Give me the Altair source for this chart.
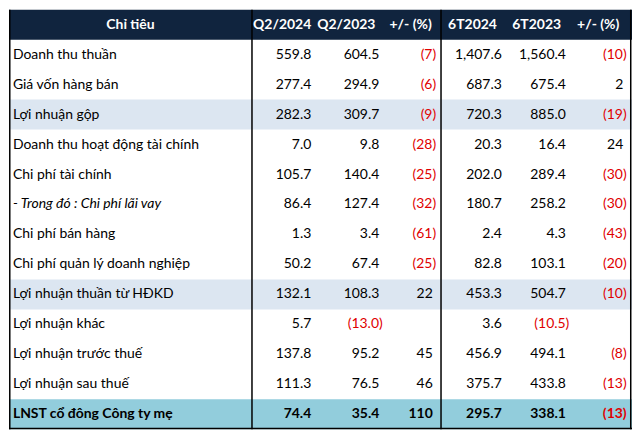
import altair as alt
import pandas as pd

# ---------------- data ----------------
headers = ["Chỉ tiêu", "Q2/2024", "Q2/2023", "+/- (%)", "6T2024", "6T2023", "+/- (%)"]
labels = ["Doanh thu thuần", "Giá vốn hàng bán", "Lợi nhuận gộp",
          "Doanh thu hoạt động tài chính", "Chi phí tài chính",
          "- Trong đó : Chi phí lãi vay", "Chi phí bán hàng",
          "Chi phí quản lý doanh nghiệp", "Lợi nhuận thuần từ HĐKD",
          "Lợi nhuận khác", "Lợi nhuận trước thuế", "Lợi nhuận sau thuế",
          "LNST cổ đông Công ty mẹ"]
q2_2024 = [559.8, 277.4, 282.3, 7.0, 105.7, 86.4, 1.3, 50.2, 132.1, 5.7, 137.8, 111.3, 74.4]
q2_2023 = [604.5, 294.9, 309.7, 9.8, 140.4, 127.4, 3.4, 67.4, 108.3, -13.0, 95.2, 76.5, 35.4]
chg_q = [-7, -6, -9, -28, -25, -32, -61, -25, 22, None, 45, 46, 110]
h1_2024 = [1407.6, 687.3, 720.3, 20.3, 202.0, 180.7, 2.4, 82.8, 453.3, 3.6, 456.9, 375.7, 295.7]
h1_2023 = [1560.4, 675.4, 885.0, 16.4, 289.4, 258.2, 4.3, 103.1, 504.7, -10.5, 494.1, 433.8, 338.1]
chg_h = [-10, 2, -19, 24, -30, -30, -43, -20, -10, None, -8, -13, -13]
highlight_rows = ["Lợi nhuận gộp", "Lợi nhuận thuần từ HĐKD"]
italic_rows = ["- Trong đó : Chi phí lãi vay"]
total_row = "LNST cổ đông Công ty mẹ"

# ---------------- layout (reference pixel units) ----------------
W_REF, H_REF = 641, 437
ROW_H = H_REF / (len(labels) + 1)
value_right = [311, 381, 436, 507, 573, 632]      # right edge of positive numbers
header_right = [311, 377, 435, 502, 568, 628]
NEG_SHIFT = 3.5
LABEL_X = 4
HEAD_CENTER = 125
V_LINES = [0.8, 250, 444.5, 639.7]
FONT = "Lato"
FS = 14

HEAD_BG = "#10243E"
HL_BG = "#DCE6F1"
TOTAL_BG = "#92CDDC"
RED = "#E00000"
INK = "#000000"


def fmt(v, dec):
    if v is None:
        return ""
    s = f"{abs(v):,.{dec}f}"
    return f"({s})" if v < 0 else s


# backgrounds
bg = [{"y0": 0, "y1": ROW_H, "x0": 0, "x1": W_REF, "fill": HEAD_BG}]
for i, lab in enumerate(labels):
    top = ROW_H * (i + 1)
    if lab in highlight_rows:
        bg.append({"y0": top, "y1": top + ROW_H, "x0": 0, "x1": W_REF, "fill": HL_BG})
    elif lab == total_row:
        bg.append({"y0": top, "y1": top + ROW_H, "x0": 0, "x1": W_REF, "fill": TOTAL_BG})
bg_df = pd.DataFrame(bg)

# lines
lines = [{"x0": x, "x1": x, "y0": 0, "y1": H_REF} for x in V_LINES]
lines.append({"x0": 0, "x1": W_REF, "y0": H_REF - 0.8, "y1": H_REF - 0.8})
lines_df = pd.DataFrame(lines)

# header texts
head_df = pd.DataFrame({"t": headers[1:], "x": header_right, "y": [ROW_H / 2] * 6})
head_c_df = pd.DataFrame({"t": [headers[0]], "x": [HEAD_CENTER], "y": [ROW_H / 2]})

# label texts
lab_rows = []
for i, lab in enumerate(labels):
    kind = "italic" if lab in italic_rows else ("bold" if lab == total_row else "normal")
    lab_rows.append({"t": lab, "x": LABEL_X, "y": ROW_H * (i + 1.5), "kind": kind})
lab_df = pd.DataFrame(lab_rows)

# numbers
cols = [(q2_2024, 1), (q2_2023, 1), (chg_q, 0), (h1_2024, 1), (h1_2023, 1), (chg_h, 0)]
num_rows = []
for i, lab in enumerate(labels):
    for c, (series, dec) in enumerate(cols):
        v = series[i]
        if v is None:
            continue
        neg = v < 0
        num_rows.append({
            "t": fmt(v, dec),
            "x": value_right[c] + (NEG_SHIFT if neg else 0),
            "y": ROW_H * (i + 1.5),
            "col": RED if neg else INK,
            "bold": lab == total_row,
        })
num_df = pd.DataFrame(num_rows)

xs = alt.Scale(domain=[0, W_REF], nice=False, zero=False)
ys = alt.Scale(domain=[0, H_REF], nice=False, zero=False, reverse=True)


def X(f="x"):
    return alt.X(f"{f}:Q", scale=xs, axis=None)


def Y(f="y"):
    return alt.Y(f"{f}:Q", scale=ys, axis=None)


rects = alt.Chart(bg_df).mark_rect(strokeWidth=0).encode(
    x=X("x0"), x2="x1", y=Y("y0"), y2="y1",
    color=alt.Color("fill:N", scale=None))

rules = alt.Chart(lines_df).mark_rule(color="#000000", strokeWidth=1.5).encode(
    x=X("x0"), x2="x1", y=Y("y0"), y2="y1")

head_t = alt.Chart(head_df).mark_text(
    align="right", baseline="middle", font=FONT, fontSize=FS, fontWeight="bold",
    color="#FFFFFF").encode(x=X(), y=Y(), text="t:N")
head_c = alt.Chart(head_c_df).mark_text(
    align="center", baseline="middle", font=FONT, fontSize=FS, fontWeight="bold",
    color="#FFFFFF").encode(x=X(), y=Y(), text="t:N")

lab_n = alt.Chart(lab_df[lab_df.kind == "normal"]).mark_text(
    align="left", baseline="middle", font=FONT, fontSize=FS, color=INK).encode(
    x=X(), y=Y(), text="t:N")
lab_i = alt.Chart(lab_df[lab_df.kind == "italic"]).mark_text(
    align="left", baseline="middle", font=FONT, fontSize=FS, fontStyle="italic",
    color=INK).encode(x=X(), y=Y(), text="t:N")
lab_b = alt.Chart(lab_df[lab_df.kind == "bold"]).mark_text(
    align="left", baseline="middle", font=FONT, fontSize=FS, fontWeight="bold",
    color=INK).encode(x=X(), y=Y(), text="t:N")

num_n = alt.Chart(num_df[~num_df.bold]).mark_text(
    align="right", baseline="middle", font=FONT, fontSize=FS).encode(
    x=X(), y=Y(), text="t:N", color=alt.Color("col:N", scale=None))
num_b = alt.Chart(num_df[num_df.bold]).mark_text(
    align="right", baseline="middle", font=FONT, fontSize=FS, fontWeight="bold").encode(
    x=X(), y=Y(), text="t:N", color=alt.Color("col:N", scale=None))

chart = alt.layer(rects, rules, head_t, head_c, lab_n, lab_i, lab_b, num_n, num_b).properties(
    width=625, height=421, padding=0, background="#FFFFFF"
).configure_view(stroke=None)

chart.save("out.html", embed_options={"renderer": "svg", "actions": False})
